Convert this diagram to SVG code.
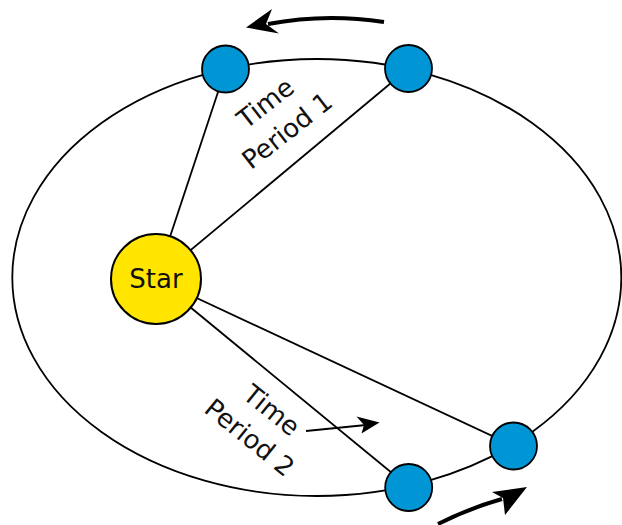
<svg xmlns="http://www.w3.org/2000/svg" width="622" height="525" viewBox="0 0 622 525">
<style>
.orbit{fill:none;stroke:#000;stroke-width:1.8}
.ray{stroke:#000;stroke-width:1.8;fill:none}
.planet{fill:#0095d5;stroke:#000;stroke-width:1.8}
.star{fill:#ffe500;stroke:#000;stroke-width:2}
.lbl{font-family:"DejaVu Sans",Verdana,sans-serif;font-size:26px;fill:#111;text-anchor:middle}
.big{fill:none;stroke:#000;stroke-width:4}
</style>
<rect width="622" height="525" fill="#fff"/>
<g id="orbit"><ellipse class="orbit" cx="316.8" cy="277.5" rx="304.5" ry="218.5"/></g>
<g id="connectors">
<line class="ray" x1="156" y1="279" x2="226" y2="68"/>
<line class="ray" x1="156" y1="279" x2="409" y2="68"/>
<line class="ray" x1="156" y1="279" x2="514" y2="446"/>
<line class="ray" x1="156" y1="279" x2="409" y2="487"/>
</g>
<g id="planet1"><circle class="planet" cx="225.5" cy="69" r="23.5"/></g>
<g id="planet2"><circle class="planet" cx="408.5" cy="68.5" r="23.5"/></g>
<g id="planet3"><circle class="planet" cx="513.5" cy="446" r="23.5"/></g>
<g id="planet4"><circle class="planet" cx="408.7" cy="487.5" r="23.5"/></g>
<g id="star"><circle class="star" cx="156" cy="279" r="45"/><text class="lbl" x="156" y="287.5">Star</text></g>
<g id="label1" transform="translate(276,116.5) rotate(-38)">
<text class="lbl" x="0" y="-8">Time</text>
<text class="lbl" x="0" y="27">Period 1</text>
</g>
<g id="label2" transform="translate(261,423.5) rotate(39)">
<text class="lbl" x="0" y="-8">Time</text>
<text class="lbl" x="0" y="27">Period 2</text>
</g>
<g id="arrows">
<path class="big" d="M384,22 Q325,13 268,24"/>
<polygon points="246,27.5 272,9 266,24 279,33.5"/>
<path class="big" d="M438,524 Q470,508 502,499"/>
<polygon points="527,487 492,492 503,498 505,515"/>
<line stroke="#000" stroke-width="1.8" x1="306" y1="431" x2="366" y2="425"/>
<polygon points="379.5,422.5 356.5,416.5 364,425 361.5,433.5"/>
</g>
</svg>
